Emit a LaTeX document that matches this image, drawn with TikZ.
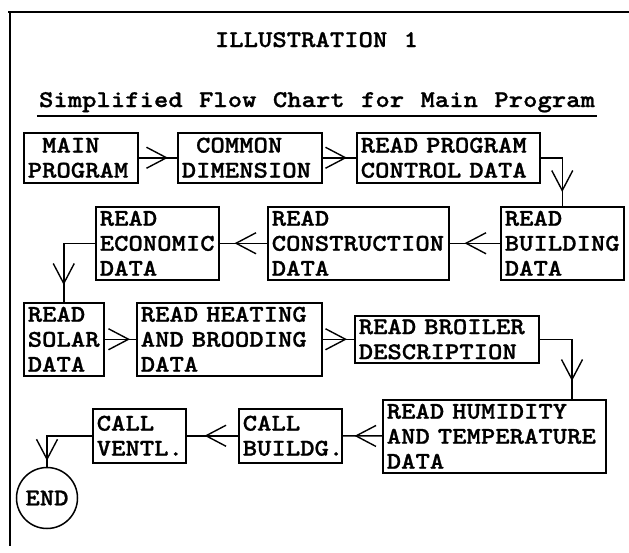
\documentclass[tikz,border=0pt]{standalone}
\usepackage{fontspec}
\newfontfamily\tw{lmmonolt10-bold.otf}[FakeStretch=1.14, WordSpace={1.14,0,0}, FakeBold=1]
\usetikzlibrary{arrows.meta,decorations.markings}
\begin{document}
\begin{tikzpicture}[x=1pt,y=-1pt,
  every node/.style={font=\tw\fontsize{24}{25}\selectfont},
  bx/.style={draw, line width=1.5pt, inner xsep=4pt, inner ysep=0pt, align=left, anchor=north west},
  ttl/.style={anchor=base, inner sep=0pt},
  conn/.style={line width=1.5pt},
  headat/.style={decoration={markings, mark=at position -#1 with {\arrow{Straight Barb[length=20pt,width=21pt,line width=1.4pt]}}}, postaction={decorate}},
  frame/.style={line width=1.5pt}
]
\fill[white] (0,0) rectangle (629,552);
\useasboundingbox (0,0) rectangle (629,552);

% frame
\coordinate (ftl) at (10,12);
\coordinate (ftr) at (629,12);
\coordinate (fbl) at (10,546);
\draw[frame] (ftr) -- (8,12);
\draw[frame] (ftl) -- (fbl);

% titles
\node[ttl] (title) at (316.5,47) {ILLUSTRATION 1};
\node[ttl] (sub) at (317,107) {Simplified Flow Chart for Main Program};
\draw[line width=1.3pt] ([yshift=-9pt,xshift=-2pt]sub.base west) -- ([yshift=-9pt,xshift=2pt]sub.base east);

% row 1
\node[bx, text width=106pt, minimum height=50pt] (main) at (23,132) {\hphantom{M}MAIN\\PROGRAM};
\node[bx, text width=136pt, minimum height=50pt] (common) at (177,132) {\hphantom{M}COMMON\\DIMENSION};
\node[bx, text width=175pt, minimum height=50pt] (prog) at (356,132) {READ~PROGRAM\\CONTROL~DATA};

% row 2
\node[bx, text width=115pt, minimum height=73pt] (building) at (500,206) {READ\\BUILDING\\DATA};
\node[bx, text width=173pt, minimum height=73pt] (construction) at (267,206) {READ\\CONSTRUCTION\\DATA};
\node[bx, text width=115pt, minimum height=73pt] (economic) at (95,206) {READ\\ECONOMIC\\DATA};

% row 3
\node[bx, text width=72pt, minimum height=73pt] (solar) at (23,302) {READ\\SOLAR\\DATA};
\node[bx, text width=177pt, minimum height=73pt] (heating) at (136,302) {READ~HEATING\\AND~BROODING\\DATA};
\node[bx, text width=176pt, minimum height=47pt] (broiler) at (354,315) {READ~BROILER\\DESCRIPTION};

% row 4
\node[bx, text width=215pt, minimum height=73pt] (humidity) at (382,399) {READ~HUMIDITY\\AND~TEMPERATURE\\DATA};
\node[bx, text width=95pt, minimum height=54pt] (buildg) at (238,408) {CALL\\BUILDG.};
\node[bx, text width=85pt, minimum height=54pt] (ventl) at (92,408) {CALL\\VENTL.};
\node[draw, circle, line width=1.5pt, minimum size=61pt, inner sep=0pt] (fin) at (47,498) {END};

\coordinate (hin) at ([xshift=190pt]humidity.north west);

% connectors
\draw[conn, headat=9pt] (main) -- (common);
\draw[conn, headat=9pt] (common) -- (prog);
\draw[conn, headat=14pt] (prog.east) -| (building.north);
\draw[conn, headat=15pt] (building) -- (construction);
\draw[conn, headat=15pt] (construction) -- (economic);
\draw[conn, headat=17pt] (economic.west) -| (solar.north);
\draw[conn, headat=6pt] (solar) -- (heating);
\draw[conn, headat=7pt] (heating) -- (broiler);
\draw[conn, headat=18pt] (broiler.east) -| (hin);
\draw[conn, headat=12pt] (humidity) -- (buildg);
\draw[conn, headat=18pt] (buildg) -- (ventl);
\draw[conn, headat=6pt] (ventl.west) -| (fin.north);
\end{tikzpicture}
\end{document}
